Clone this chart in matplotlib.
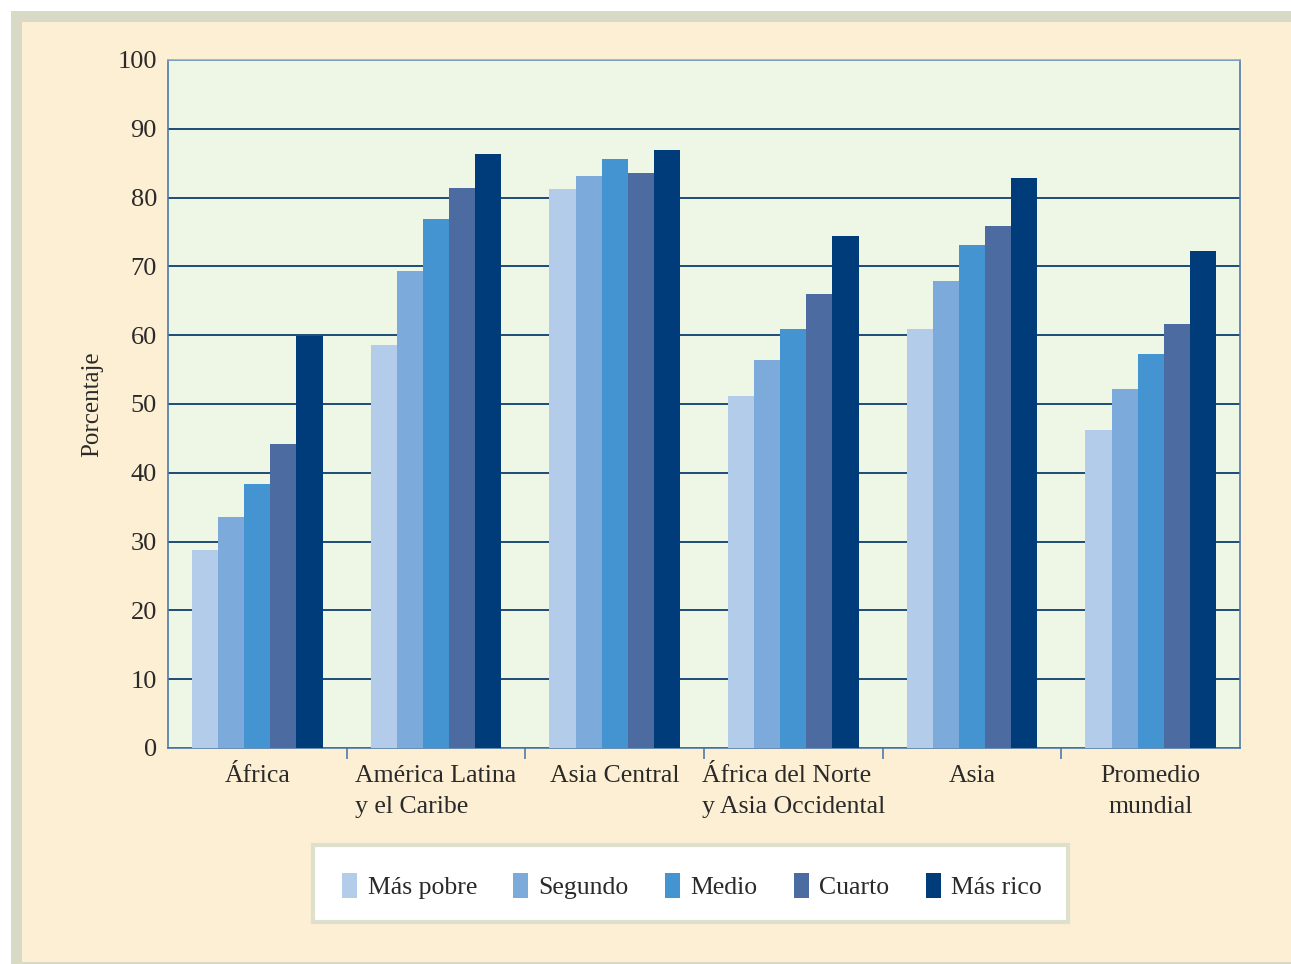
import matplotlib
matplotlib.use('Agg')
import matplotlib.pyplot as plt
from matplotlib.patches import Rectangle, Patch
import numpy as np

# regiones y quintiles de riqueza
regiones = ['África', 'América Latina\ny el Caribe', 'Asia Central',
            'África del Norte\ny Asia Occidental', 'Asia', 'Promedio\nmundial']
quintiles = ['Más pobre', 'Segundo', 'Medio', 'Cuarto', 'Más rico']

mas_pobre = [28.8, 58.6, 81.3, 51.2, 60.9, 46.2]
segundo = [33.6, 69.3, 83.1, 56.4, 67.9, 52.2]
medio = [38.4, 76.9, 85.6, 60.9, 73.1, 57.3]
cuarto = [44.2, 81.4, 83.6, 66.0, 75.9, 61.6]
mas_rico = [59.9, 86.3, 86.9, 74.4, 82.8, 72.2]

colores = ['#B2CCEA', '#7BAADB', '#4394D1', '#4C6BA0', '#013C7A']
y_ticks = [0, 10, 20, 30, 40, 50, 60, 70, 80, 90, 100]

plt.rcParams['font.family'] = ['Liberation Serif', 'DejaVu Serif']
texto = '#2A2A2A'

W, H = 1291, 964
fig = plt.figure(figsize=(W / 100, H / 100), dpi=100)
fig.patch.set_facecolor('white')

# marco exterior y fondo crema
fig.patches.append(Rectangle((11 / W, 0), 1, 1 - 11 / H, transform=fig.transFigure,
                             facecolor='#D9DAC5', edgecolor='none', zorder=-2))
fig.patches.append(Rectangle((22 / W, 2 / H), 1, 1 - 24 / H, transform=fig.transFigure,
                             facecolor='#FDEFD3', edgecolor='none', zorder=-1))

ax = fig.add_axes([168 / W, 216 / H, 1072 / W, 688 / H])
ax.set_facecolor('#EEF6E6')

series = [mas_pobre, segundo, medio, cuarto, mas_rico]
x = np.arange(len(regiones))
ancho = 0.146
for i, (vals, c) in enumerate(zip(series, colores)):
    ax.bar(x + (i - 2) * ancho, vals, width=ancho, color=c, edgecolor='none',
           zorder=3, label=quintiles[i])

ax.set_xlim(-0.5, len(regiones) - 0.5)
ax.set_ylim(0, 100)
ax.set_yticks(y_ticks)
ax.yaxis.grid(True, color='#0E3D70', linewidth=1.3, zorder=1)
ax.set_axisbelow(True)
ax.tick_params(axis='y', length=0, labelsize=19, labelcolor=texto, pad=8)

ax.set_xticks(x)
ax.set_xticklabels(regiones, fontsize=18.5, color=texto, linespacing=1.55)
for i, lbl in enumerate(ax.get_xticklabels()):
    if i in (1, 3):
        lbl.set_multialignment('left')
ax.tick_params(axis='x', which='major', length=0, pad=12)
ax.set_xticks(np.arange(0.5, len(regiones) - 1, 1), minor=True)
ax.tick_params(axis='x', which='minor', length=8, width=1.2, color='#4E7AA8',
               direction='out')

for s in ['left', 'bottom', 'right', 'top']:
    ax.spines[s].set_color('#4E7AA8')
    ax.spines[s].set_linewidth(1.2)
ax.spines['top'].set_color('#8FB0D0')

ax.set_ylabel('Porcentaje', fontsize=18, color=texto, labelpad=10)

# caja de la leyenda
fig.patches.append(Rectangle((313 / W, (H - 922) / H), 755 / W, 77 / H,
                             transform=fig.transFigure, facecolor='white',
                             edgecolor='#DDE0CC', linewidth=3, zorder=1))
handles = [Patch(facecolor=c, edgecolor='none') for c in colores]
fig.legend(handles, quintiles, loc='center', bbox_to_anchor=(692 / W, (H - 886) / H),
           ncol=5, frameon=False, fontsize=18.5, handlelength=0.6, handleheight=1.1,
           handletextpad=0.4, columnspacing=1.4, labelcolor=texto)

fig.savefig('out.png', dpi=100, facecolor=fig.get_facecolor())
